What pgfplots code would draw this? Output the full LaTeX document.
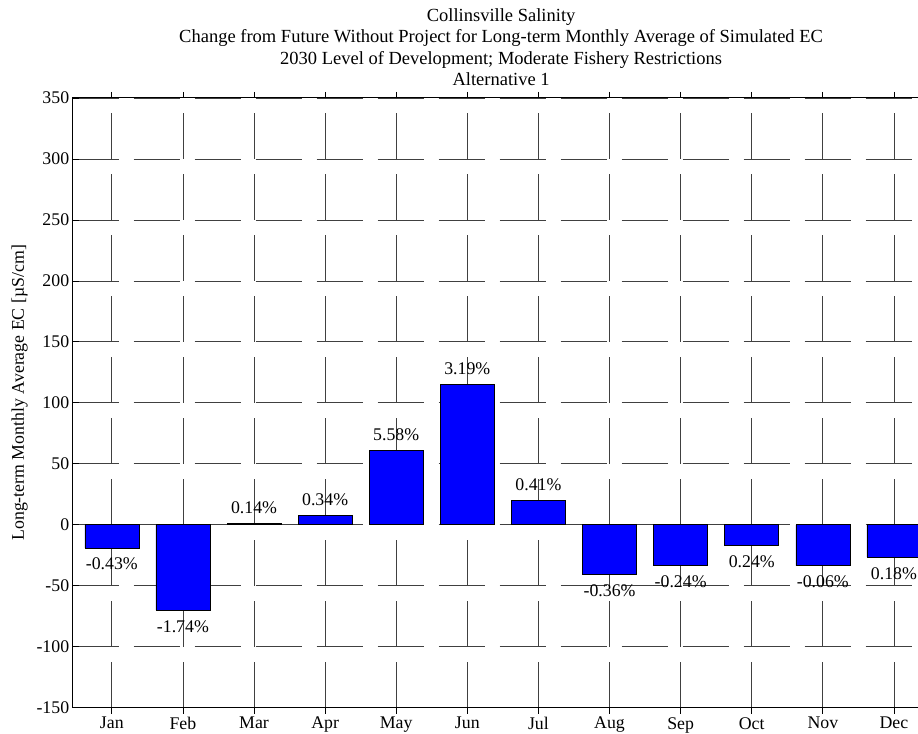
\documentclass[border=0pt]{standalone}
\usepackage{fontspec}
\setmainfont{Liberation Serif}
\usepackage{pgfplots}
\pgfplotsset{compat=1.18}
\definecolor{barblue}{RGB}{0,0,255}
\begin{document}
\begin{tikzpicture}
\begin{axis}[
  at={(0,0)}, anchor=south west,
  scale only axis,
  width=856.8bp, height=609.7bp,
  xmin=0.45, xmax=12.5,
  ymin=-150, ymax=350,
  ytick={-150,-100,...,350},
  xtick={1,...,12},
  xticklabels={Jan,Feb,Mar,Apr,May,Jun,Jul,Aug,Sep,Oct,Nov,Dec},
  font=\fontsize{17.8bp}{21.4bp}\selectfont,
  /pgf/number format/assume math mode=true,
  /pgf/number format/.cd, 1000 sep={}, /pgfplots/.cd,
  ymajorgrids, xmajorgrids,
  major grid style={black!75, line width=0.8bp, dash pattern=on 46bp off 15bp},
  axis line style={black, line width=1bp},
  major tick length=6bp,
  tick style={black, line width=0.8bp},
  ylabel={Long-term Monthly Average EC [µS/cm]},
  ylabel style={yshift=2bp, xshift=10bp},
  title={Collinsville Salinity\\Change from Future Without Project for Long-term Monthly Average of Simulated EC\\2030 Level of Development; Moderate Fishery Restrictions\\Alternative 1},
  title style={align=center, yshift=3bp, font=\fontsize{18.5bp}{21.2bp}\selectfont},
  ybar, bar width=54bp, bar shift=0pt,
  nodes near coords,
  point meta=explicit symbolic,
]
\addplot[fill=barblue, draw=black, line width=0.6bp,
  every node near coord/.append style={font=\fontsize{17.8bp}{21bp}\selectfont, black, anchor=south, yshift=6bp}]
  coordinates {
  (3,1) [0.14\%]
  (4,7.7) [0.34\%]
  (5,61) [5.58\%]
  (6,115) [3.19\%]
  (7,20) [0.41\%]
};
\addplot[fill=barblue, draw=black, line width=0.6bp,
  every node near coord/.append style={font=\fontsize{17.8bp}{21bp}\selectfont, black, anchor=north, yshift=-6.5bp}]
  coordinates {
  (1,-19) [-0.43\%]
  (2,-70) [-1.74\%]
  (8,-41) [-0.36\%]
  (9,-33.5) [-0.24\%]
  (10,-17) [0.24\%]
  (11,-33.5) [-0.06\%]
  (12,-26.5) [0.18\%]
};
\end{axis}
\pgfresetboundingbox
\useasboundingbox (-72.7bp,-26.3bp) rectangle (845.3bp,707.7bp);
\end{tikzpicture}
\end{document}
